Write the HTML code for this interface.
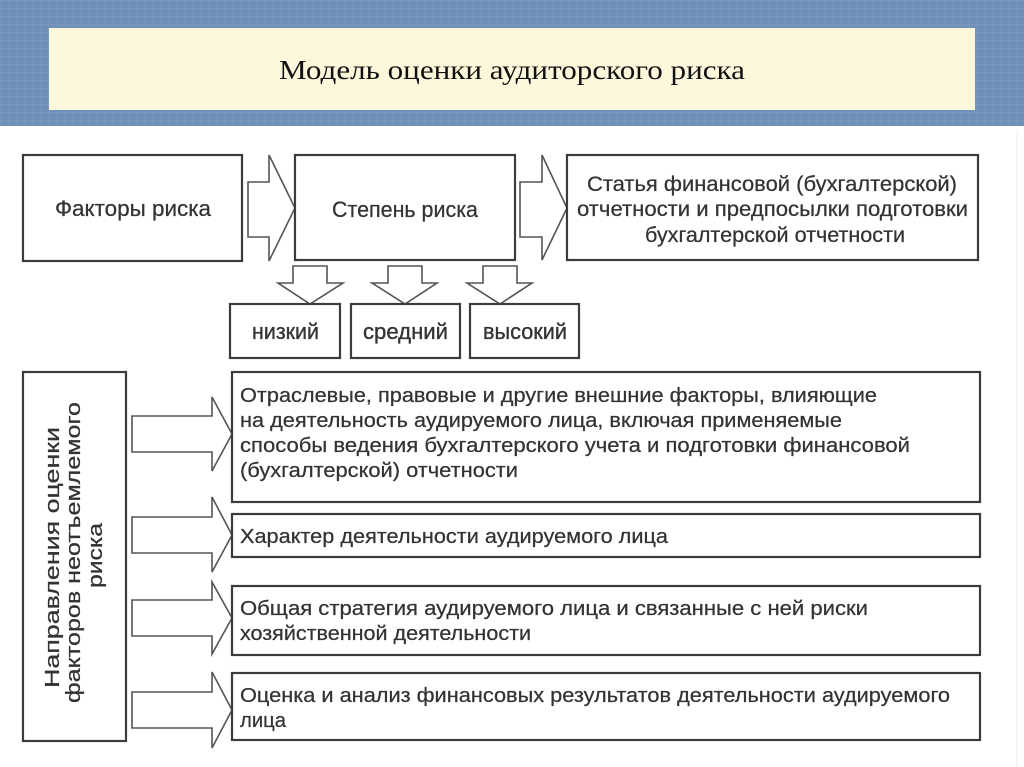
<!DOCTYPE html>
<html><head><meta charset="utf-8">
<style>
html,body{margin:0;padding:0;background:#fff;width:1024px;height:767px;overflow:hidden}
svg{display:block}
</style></head>
<body>
<svg width="1024" height="767" viewBox="0 0 1024 767" xmlns="http://www.w3.org/2000/svg">
<defs>
<pattern id="grid" width="8" height="8" patternUnits="userSpaceOnUse">
<rect width="8" height="8" fill="#6f91b7"/>
<path d="M0 0.5H8M0.5 0V8" stroke="#7797bc" stroke-width="1"/>
</pattern>
</defs>

<!-- header banner -->
<rect x="0" y="0" width="1024" height="126" fill="url(#grid)"/>
<rect x="49" y="28" width="926" height="82" fill="#fdf8dc"/>
<text x="279" y="79" font-family="Liberation Serif, serif" font-size="27" fill="#111" textLength="466" lengthAdjust="spacingAndGlyphs">Модель оценки аудиторского риска</text>

<!-- faint right edge line -->
<line x1="1017" y1="130" x2="1017" y2="767" stroke="#ececec" stroke-width="1"/>

<g fill="#fff" stroke="#555" stroke-width="1.6" stroke-linejoin="miter">
<!-- row1 right arrows -->
<polygon points="248,182 269,182 269,155 295,208 269,261 269,237 248,237"/>
<polygon points="520,182 542,182 542,155 567,208 542,260 542,237 520,237"/>
<!-- down arrows -->
<polygon points="293,266 327,266 327,283 343,283 310,304 278,283 293,283"/>
<polygon points="388,266 422,266 422,283 437,283 405,304 372,283 388,283"/>
<polygon points="483,266 517,266 517,283 532,283 500,304 467,283 483,283"/>
<!-- lower right arrows -->
<polygon points="132,416 212,416 212,397 232,434 212,471 212,452 132,452"/>
<polygon points="132,517 212,517 212,497 232,535 212,572 212,553 132,553"/>
<polygon points="132,600 212,600 212,582 232,618 212,654 212,636 132,636"/>
<polygon points="132,692 212,692 212,672 232,710 212,748 212,728 132,728"/>
</g>

<g fill="#fff" stroke="#3c3c3c" stroke-width="2.2">
<rect x="23" y="155" width="219" height="106"/>
<rect x="295" y="155" width="220" height="105"/>
<rect x="567" y="155" width="411" height="105"/>
<rect x="230" y="304" width="110" height="54"/>
<rect x="351" y="304" width="109" height="54"/>
<rect x="470" y="304" width="109" height="54"/>
<rect x="23" y="372" width="103" height="369"/>
<rect x="232" y="372" width="748" height="130"/>
<rect x="232" y="514" width="748" height="43"/>
<rect x="232" y="586" width="748" height="69"/>
<rect x="232" y="673" width="748" height="67"/>
</g>

<g font-family="Liberation Sans, Arial, sans-serif" fill="#333" stroke="#333" stroke-width="0.25">
<text x="55" y="216" font-size="22" textLength="156" lengthAdjust="spacingAndGlyphs">Факторы риска</text>
<text x="332" y="217" font-size="22" textLength="146" lengthAdjust="spacingAndGlyphs">Степень риска</text>
<text x="587" y="191" font-size="21" textLength="370" lengthAdjust="spacingAndGlyphs">Статья финансовой (бухгалтерской)</text>
<text x="577" y="216" font-size="21" textLength="391" lengthAdjust="spacingAndGlyphs">отчетности и предпосылки подготовки</text>
<text x="645" y="242" font-size="21" textLength="260" lengthAdjust="spacingAndGlyphs">бухгалтерской отчетности</text>

<text x="252" y="339" font-size="22" stroke-width="0.35" textLength="67" lengthAdjust="spacingAndGlyphs">низкий</text>
<text x="363" y="339" font-size="22" stroke-width="0.35" textLength="85" lengthAdjust="spacingAndGlyphs">средний</text>
<text x="483" y="339" font-size="22" stroke-width="0.35" textLength="84" lengthAdjust="spacingAndGlyphs">высокий</text>

<text x="240" y="402" font-size="20" textLength="637" lengthAdjust="spacingAndGlyphs">Отраслевые, правовые и другие внешние факторы, влияющие</text>
<text x="240" y="427" font-size="20" textLength="602" lengthAdjust="spacingAndGlyphs">на деятельность аудируемого лица, включая применяемые</text>
<text x="240" y="452" font-size="20" textLength="670" lengthAdjust="spacingAndGlyphs">способы ведения бухгалтерского учета и подготовки финансовой</text>
<text x="240" y="477" font-size="20" textLength="278" lengthAdjust="spacingAndGlyphs">(бухгалтерской) отчетности</text>

<text x="240" y="543" font-size="20" textLength="428" lengthAdjust="spacingAndGlyphs">Характер деятельности аудируемого лица</text>

<text x="240" y="615" font-size="20" textLength="628" lengthAdjust="spacingAndGlyphs">Общая стратегия аудируемого лица и связанные с ней риски</text>
<text x="240" y="640" font-size="20" textLength="291" lengthAdjust="spacingAndGlyphs">хозяйственной деятельности</text>

<text x="240" y="702" font-size="20" textLength="710" lengthAdjust="spacingAndGlyphs">Оценка и анализ финансовых результатов деятельности аудируемого</text>
<text x="240" y="727" font-size="20" textLength="46" lengthAdjust="spacingAndGlyphs">лица</text>

<text transform="translate(59,557.5) rotate(-90)" x="-130.5" y="0" font-size="20" textLength="261" lengthAdjust="spacingAndGlyphs">Направления оценки</text>
<text transform="translate(80,552.5) rotate(-90)" x="-150.5" y="0" font-size="20" textLength="301" lengthAdjust="spacingAndGlyphs">факторов неотъемлемого</text>
<text transform="translate(102,555.5) rotate(-90)" x="-32.5" y="0" font-size="20" textLength="65" lengthAdjust="spacingAndGlyphs">риска</text>
</g>
</svg>
</body></html>
